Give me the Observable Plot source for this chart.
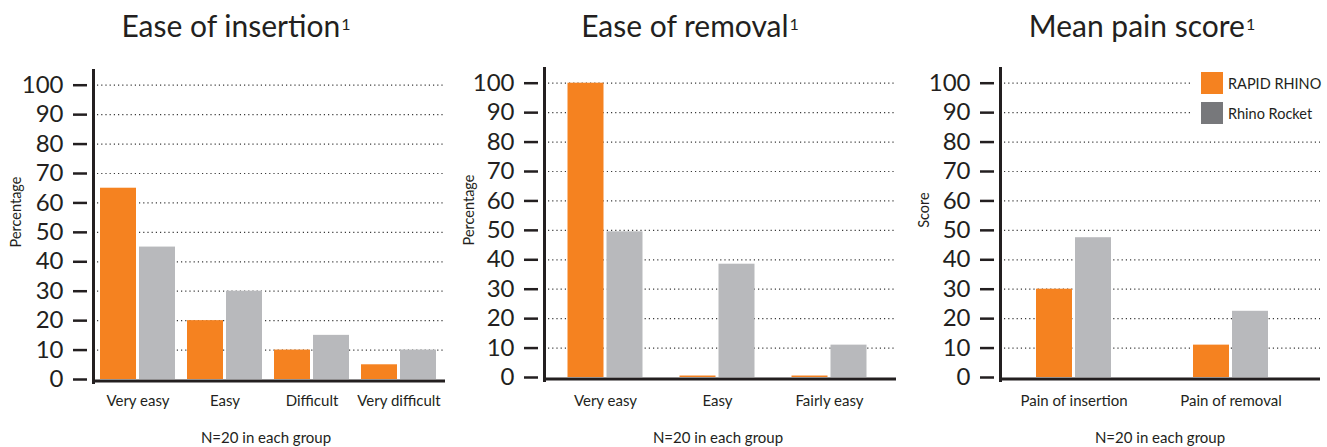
<!DOCTYPE html>
<html>
<head>
<meta charset="utf-8">
<script src="https://cdn.jsdelivr.net/npm/d3@7"></script>
<script src="https://cdn.jsdelivr.net/npm/@observablehq/plot@0.6"></script>
<style>
  html, body { margin: 0; padding: 0; background: #fff; }
  #root { position: relative; width: 1327px; height: 447px; overflow: hidden; font-family: Lato, "Open Sans", sans-serif; color: #231f20; }
  .panel { position: absolute; top: 0; height: 447px; }
  .panel svg { position: absolute; left: 0; top: 0; }
  .title { position: absolute; top: 10px; font-size: 30px; line-height: 30px; white-space: nowrap; transform: translateX(-50%); font-weight: 400; }
  .title sup { font-size: 16px; vertical-align: top; position: relative; top: -1px; margin-left: 1px; }
  .foot { position: absolute; top: 430px; font-size: 15px; line-height: 15px; white-space: nowrap; transform: translateX(-50%); }
  .ylab { position: absolute; font-size: 14.5px; line-height: 15px; white-space: nowrap; transform: translate(-50%, -50%) rotate(-90deg); }
  .legend { position: absolute; left: 1193px; top: 66px; width: 134px; height: 64px; background: #fff; }
  .legend .row { position: absolute; left: 8px; height: 22px; display: flex; align-items: center; font-size: 14.5px; white-space: nowrap; }
  .legend .sw { width: 22px; height: 22px; margin-right: 5px; }
</style>
</head>
<body>
<div id="root"></div>
<script>
// ---- data ----
const seriesNames = ["RAPID RHINO", "Rhino Rocket"];
const seriesColors = ["#f58220", "#b8b9bc"];
const legendColors = ["#f58220", "#77787b"];

const insertionCats = ["Very easy", "Easy", "Difficult", "Very difficult"];
const insertionRapid = [65, 20, 10, 5];
const insertionRocket = [45, 30, 15, 10];

const removalCats = ["Very easy", "Easy", "Fairly easy"];
const removalRapid = [100, 0.5, 0.5];
const removalRocket = [49.5, 38.5, 11];

const painCats = ["Pain of insertion", "Pain of removal"];
const painRapid = [30, 11];
const painRocket = [47.5, 22.5];

const yTicks = [0, 10, 20, 30, 40, 50, 60, 70, 80, 90, 100];

const titles = ["Ease of insertion", "Ease of removal", "Mean pain score"];
const yLabels = ["Percentage", "Percentage", "Score"];
const footnote = "N=20 in each group";

// ---- layout ----
const panels = [
  {left: 0, width: 450, mL: 93, mR: 5, mT: 70, mB: 68, xr: [94, 442], pad: 16,
   cats: insertionCats, a: insertionRapid, b: insertionRocket,
   title: titles[0], titleX: 236, ylab: yLabels[0], ylabX: 15, ylabY: 212, footX: 266},
  {left: 450, width: 450, mL: 94, mR: 4, mT: 68, mB: 70, xr: [99, 435], pad: 18,
   cats: removalCats, a: removalRapid, b: removalRocket,
   title: titles[1], titleX: 690, ylab: yLabels[1], ylabX: 468, ylabY: 210, footX: 718},
  {left: 900, width: 427, mL: 100, mR: 7, mT: 68, mB: 70, xr: [95, 409], pad: 18,
   cats: painCats, a: painRapid, b: painRocket,
   title: titles[2], titleX: 1142, ylab: yLabels[2], ylabX: 923, ylabY: 210, footX: 1160}
];

const root = document.getElementById("root");

for (const p of panels) {
  const table = p.cats.map((c, i) => ({cat: c, a: p.a[i], b: p.b[i]}));
  const bw = (p.xr[1] - p.xr[0]) / p.cats.length;
  const barW = 36, gap = 3;
  const chart = Plot.plot({
    width: p.width,
    height: 447,
    marginLeft: p.mL, marginRight: p.mR, marginTop: p.mT, marginBottom: p.mB,
    style: {fontFamily: "Lato, 'Open Sans', sans-serif", color: "#231f20", background: "transparent"},
    x: {domain: p.cats, range: p.xr, padding: 0},
    y: {domain: [0, 105]},
    marks: [
      Plot.gridY(yTicks.slice(1), {stroke: "#3a3a3a", strokeOpacity: 1, strokeWidth: 1.2, strokeDasharray: "1.2 3", insetLeft: 4}),
      Plot.barY(table, {x: "cat", y: "a", fill: seriesColors[0],
        insetLeft: bw / 2 - barW - gap / 2, insetRight: bw / 2 + gap / 2}),
      Plot.barY(table, {x: "cat", y: "b", fill: seriesColors[1],
        insetLeft: bw / 2 + gap / 2, insetRight: bw / 2 - barW - gap / 2}),
      Plot.ruleY([0], {stroke: "#231f20", strokeWidth: 3, dy: 1.5}),
      Plot.frame({anchor: "left", stroke: "#231f20", strokeWidth: 3, insetBottom: -3}),
      Plot.axisY(yTicks, {tickSize: 14, tickPadding: 10, dx: -6, fontSize: 24, strokeWidth: 2.5, label: null}),
      Plot.axisX({tickSize: 0, tickPadding: p.pad, fontSize: 15, label: null})
    ]
  });
  const div = document.createElement("div");
  div.className = "panel";
  div.style.left = p.left + "px";
  div.style.width = p.width + "px";
  div.appendChild(chart);
  root.appendChild(div);

  const t = document.createElement("div");
  t.className = "title";
  t.style.left = p.titleX + "px";
  t.innerHTML = p.title + "<sup>1</sup>";
  root.appendChild(t);

  const yl = document.createElement("div");
  yl.className = "ylab";
  yl.style.left = p.ylabX + "px";
  yl.style.top = p.ylabY + "px";
  yl.textContent = p.ylab;
  root.appendChild(yl);

  const f = document.createElement("div");
  f.className = "foot";
  f.style.left = p.footX + "px";
  f.textContent = footnote;
  root.appendChild(f);
}

// legend
const lg = document.createElement("div");
lg.className = "legend";
seriesNames.forEach((name, i) => {
  const row = document.createElement("div");
  row.className = "row";
  row.style.top = (6 + i * 30) + "px";
  const sw = document.createElement("div");
  sw.className = "sw";
  sw.style.background = legendColors[i];
  const tx = document.createElement("span");
  tx.textContent = name;
  row.appendChild(sw);
  row.appendChild(tx);
  lg.appendChild(row);
});
root.appendChild(lg);
</script>
</body>
</html>
